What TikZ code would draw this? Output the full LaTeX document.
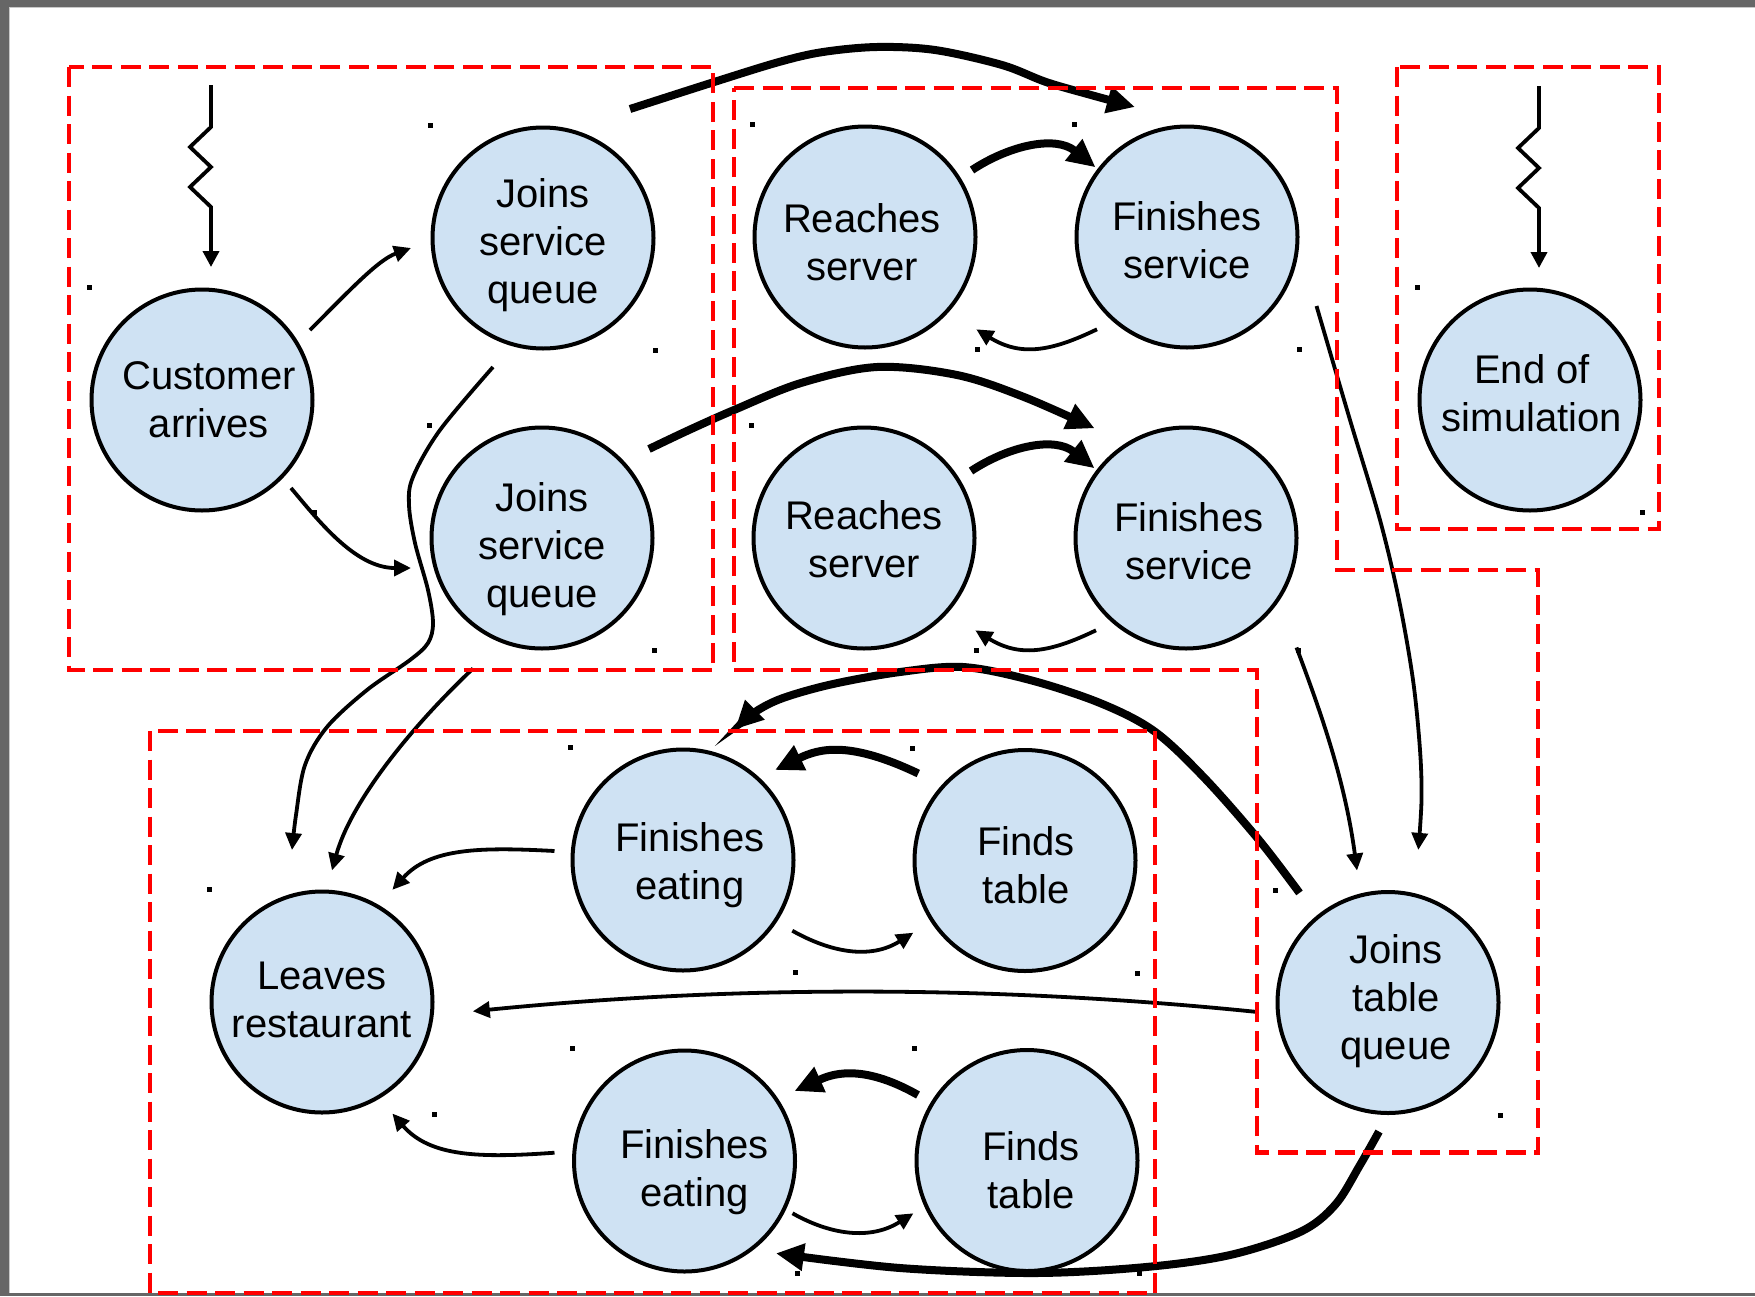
\documentclass[tikz,border=0pt]{standalone}
\usepackage{fontspec}
\setmainfont{Liberation Sans}
\usetikzlibrary{arrows.meta,calc}
\definecolor{nodeblue}{HTML}{CFE2F3}
\definecolor{framegray}{HTML}{666666}
\definecolor{edgegray}{HTML}{C8C8C8}
\newcommand{\ntx}[3][0pt]{\hspace*{#1}\raisebox{#2}[\height][\depth]{\begin{tabular}{@{}c@{}}#3\end{tabular}}\hspace*{-#1}}
\begin{document}
\begin{tikzpicture}[x=1pt,y=-1pt,
  ev/.style={circle,draw=black,line width=4pt,fill=nodeblue,minimum size=221pt,inner sep=0pt,font=\fontsize{40}{48}\selectfont},
  thinarr/.style={line width=3.8pt,-{Triangle[length=17pt,width=16pt]}},
  thickarr/.style={line width=8pt,-{Triangle[length=28pt,width=26pt]}},
  zigarr/.style={line width=3.8pt,-{Triangle[length=16pt,width=16pt]}},
  grp/.style={draw=red,line width=4.5pt,dash pattern=on 20pt off 8.5pt}]
\useasboundingbox (0,0) rectangle (1755,1296);
\fill[white] (0,0) rectangle (1755,1296);
\fill[framegray] (0,0) rectangle (1755,7);
\fill[framegray] (0,0) rectangle (9,1296);
\fill[framegray] (0,1293) rectangle (1755,1296);
\fill[edgegray] (9,7) rectangle (1755,8);
\fill[edgegray] (9,7) rectangle (10,1293);

% events
\node[ev] (cust) at (202,400) {\ntx[7pt]{-4pt}{Customer\\arrives}};
\node[ev] (jsq1) at (543,238) {\ntx{-8pt}{Joins\\service\\queue}};
\node[ev] (jsq2) at (542,538) {\ntx{-12pt}{Joins\\service\\queue}};
\node[ev] (rs1) at (865,237) {\ntx[-3pt]{-10pt}{Reaches\\server}};
\node[ev] (fs1) at (1187,237) {\ntx{-8pt}{Finishes\\service}};
\node[ev] (rs2) at (864,538) {\ntx{-5.5pt}{Reaches\\server}};
\node[ev] (fs2) at (1186,538) {\ntx[3pt]{-8pt}{Finishes\\service}};
\node[ev] (eos) at (1530,400) {\ntx[2pt]{2pt}{End of\\simulation}};
\node[ev] (fe1) at (683,860) {\ntx[7pt]{-5.5pt}{Finishes\\eating}};
\node[ev] (ft1) at (1025,860.5) {\ntx[1pt]{-9pt}{Finds\\table}};
\node[ev] (lr) at (322,1002) {\ntx{-2pt}{Leaves\\restaurant}};
\node[ev] (fe2) at (684.5,1161) {\ntx[10pt]{-12pt}{Finishes\\eating}};
\node[ev] (ft2) at (1027,1160.5) {\ntx[4pt]{-14.5pt}{Finds\\table}};
\node[ev] (jtq) at (1388,1002.5) {\ntx[8pt]{1pt}{Joins\\table\\queue}};

% small corner marks
\foreach \n in {cust,jsq1,jsq2,rs1,fs1,rs2,fs2,eos,fe1,ft1,lr,fe2,ft2,jtq}{
  \fill (\n.west |- \n.north) ++(-2.5,-2.5) rectangle ++(5,5);
  \fill (\n.east |- \n.south) ++(-2.5,-2.5) rectangle ++(5,5);
}

% zigzag arrivals
\coordinate (zs1) at (211,85);
\draw[zigarr] (zs1) -- ++(0,42) -- ++(-21,20) -- ++(21,20) -- ++(-21,20) -- ++(21,20) -- ($(cust)+(9,-133)$);
\coordinate (zs2) at (1539,86);
\draw[zigarr] (zs2) -- ++(0,42) -- ++(-21,20) -- ++(21,20) -- ++(-21,20) -- ++(21,20) -- ($(eos)+(9,-132)$);

% customer to queues
\draw[thinarr] ($(cust)+(108,-70)$) .. controls (350,290) and (378,260) .. ($(jsq1)+(-132,10)$);
\draw[thinarr] ($(cust)+(89,88)$) .. controls (318,520) and (355,568) .. ($(jsq2)+(-131,30)$);

% queues to leaves
\coordinate (e0) at ($(jsq1)+(-50,129)$);
\coordinate (e1) at ($(lr)+(-30,-152)$);
\draw[thinarr] plot[smooth,tension=0.55] coordinates {(e0) (440,430) (413,477) (409,505) (415,543) (428,590) (433,623) (428,643) (410,660) (367,690) (327,727) (305,765) (296,815) (e1)};
\draw[thinarr] ($(jsq2)+(-69,130.5)$) .. controls (405,733) and (350,805) .. ($(lr)+(10,-131.6)$);

% queues to finishes service (big arcs)
\coordinate (g0) at ($(jsq1)+(87,-129)$);
\coordinate (g1) at ($(fs1)+(-52,-130)$);
\draw[thickarr] plot[smooth,tension=0.55] coordinates {(g0) (711,83) (779,62) (823,52) (877,47) (935,50) (1002,65) (1046,82) (1091,95) (g1)};
\coordinate (h0) at ($(jsq2)+(107,-89)$);
\coordinate (h1) at ($(fs2)+(-91.4,-109.7)$);
\draw[thickarr] plot[smooth,tension=0.55] coordinates {(h0) (689,430) (734,410) (801,383) (877,367) (957,375) (1024,397) (h1)};

% server loops
\draw[thickarr] ($(rs1)+(107,-67)$) .. controls +(38,-25) and +(-40,-32) .. ($(fs1)+(-91.5,-69.7)$);
\draw[thickarr] ($(rs2)+(107,-67)$) .. controls +(38,-25) and +(-40,-32) .. ($(fs2)+(-91.5,-69.7)$);
\draw[thinarr] ($(fs1)+(-90,92.3)$) .. controls +(-47,22.7) and +(44,27) .. ($(rs1)+(111.3,92.3)$);
\draw[thinarr] ($(fs2)+(-90,92.3)$) .. controls +(-47,22.7) and +(44,27) .. ($(rs2)+(111.3,92.3)$);

% finishes service to table queue
\coordinate (m0) at ($(fs1)+(129.5,69)$);
\coordinate (m1) at ($(jtq)+(30.3,-152.6)$);
\draw[thinarr] plot[smooth,tension=0.55] coordinates {(m0) (1350,420) (1380,520) (1399,600) (1413,680) (1420,750) (1421.5,800) (m1)};
\draw[thinarr] ($(fs2)+(110.5,109.5)$) .. controls (1320,710) and (1345,780) .. ($(jtq)+(-31,-132)$);

% table queue to eating
\coordinate (o0) at ($(jtq)+(-88.5,-109.6)$);
\coordinate (o1) at ($(fe1)+(52,-130.7)$);
\draw[thickarr] plot[smooth,tension=0.55] coordinates {(o0) (1259,840) (1204,777.5) (1154,731) (1100,703) (1030,680) (963,667) (900,672) (833,684) (783,698) (755,712) (o1)};
\coordinate (t0) at ($(jtq)+(-9,129)$);
\coordinate (t1) at ($(fe2)+(91.4,92.3)$);
\draw[thickarr] plot[smooth,tension=0.55] coordinates {(t0) (1360,1165) (1335,1205) (1300,1232) (1230,1255) (1146,1267) (1035,1273) (900,1268) (t1)};

% table loops
\draw[thickarr] ($(ft1)+(-106.7,-87)$) .. controls (850,741) and (820,748) .. ($(fe1)+(92,-90)$);
\draw[thickarr] ($(ft2)+(-109,-65.5)$) .. controls (860,1062) and (830,1075) .. ($(fe2)+(110,-70)$);
\draw[thinarr] ($(fe1)+(109.3,70.7)$) .. controls +(37.7,21.3) and +(-43.3,27.3) .. ($(ft1)+(-111.7,72.2)$);
\draw[thinarr] ($(fe2)+(108,52.3)$) .. controls +(37.7,21.3) and +(-43.3,27.3) .. ($(ft2)+(-113.6,52.8)$);

% to leaves restaurant
\draw[thinarr] ($(fe1)+(-128.5,-9)$) .. controls (480,847) and (430,848) .. ($(lr)+(70.4,-112.2)$);
\draw[thinarr] ($(fe2)+(-130,-8.3)$) .. controls (480,1158) and (430,1157) .. ($(lr)+(70.4,111.5)$);
\draw[thinarr] ($(jtq)+(-131.4,9.4)$) .. controls +(-261,-26.7) and +(261.5,-26.2) .. ($(lr)+(150.8,9.3)$);

% groups
\draw[grp] (69,67) rectangle (713,670);
\draw[grp] (734,88) -- (1337,88) -- (1337,570) -- (1538,570) -- (1538,1152.6) -- (1257,1152.6) -- (1257,670) -- (734,670) -- cycle;
\draw[grp] (1397,67) rectangle (1659,529);
\draw[grp] (150,731) rectangle (1155,1293);
\end{tikzpicture}
\end{document}
